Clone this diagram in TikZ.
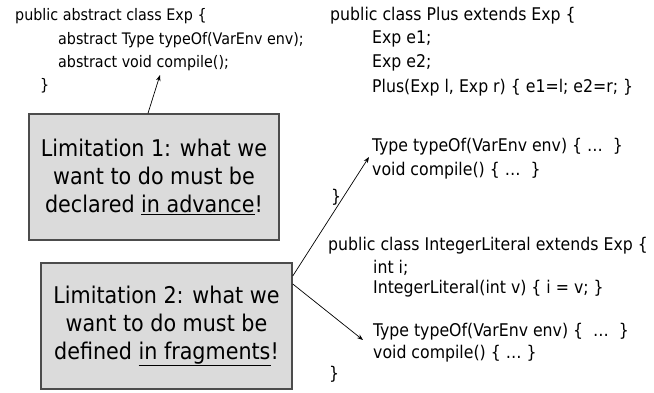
\documentclass[tikz,border=0pt]{standalone}
\usepackage{fontspec}
\setmainfont{DejaVu Sans Condensed}
\usetikzlibrary{arrows.meta}
\begin{document}
\begin{tikzpicture}[x=1pt,y=-1pt,
  codeL/.style={anchor=base west,inner sep=0pt,font=\fontsize{15.9}{19}\selectfont},
  codeR/.style={anchor=base west,inner sep=0pt,font=\fontsize{17.5}{20}\selectfont},
  limbox/.style={draw=black!70,line width=1.5pt,fill=black!14,align=center,inner sep=0pt,
     font=\fontsize{23}{28}\selectfont},
  arr/.style={-{Stealth[length=6pt,width=4.5pt]},line width=0.7pt}]
\useasboundingbox (0,0) rectangle (654,393);
% left class
\node[codeL] (e1) at (15,21) {public abstract class Exp \{};
\node[codeL] (e2) at (58,45) {abstract Type typeOf(VarEnv env);};
\node[codeL] (e3) at (58,68) {abstract void compile();};
\node[codeL] (e4) at (40,91) {\}};
% Plus class
\node[codeR] (p1) at (330,21) {public class Plus extends Exp \{};
\node[codeR] (p2) at (372,44) {Exp e1;};
\node[codeR] (p3) at (372,68) {Exp e2;};
\node[codeR] (p4) at (372,93) {Plus(Exp l, Exp r) \{ e1=l; e2=r; \}};
\node[codeR] (p5) at (372,152) {Type typeOf(VarEnv env) \{ …\ \ \}};
\node[codeR] (p6) at (372,176) {void compile() \{ …\ \ \}};
\node[codeR] (p7) at (331,203) {\}};
% IntegerLiteral class
\node[codeR] (i1) at (328,251) {public class IntegerLiteral extends Exp \{};
\node[codeR] (i2) at (373,273) {int i;};
\node[codeR] (i3) at (373,294) {IntegerLiteral(int v) \{ i = v; \}};
\node[codeR] (i4) at (373,336) {Type typeOf(VarEnv env) \{\ \ …\ \ \}};
\node[codeR] (i5) at (373,358) {void compile() \{ … \}};
\node[codeR] (i6) at (329,379) {\}};
% limitation boxes
\node[limbox,minimum width=250pt,minimum height=126pt] (b1) at (154,177)
  {Limitation 1: what we\\want to do must be\\declared \underline{in advance}!};
\node[limbox,minimum width=251pt,minimum height=126pt] (b2) at (166.5,326)
  {Limitation 2: what we\\want to do must be\\defined \underline{in fragments}!};
% arrow targets
\coordinate (t1) at (160,75);
\coordinate (t2) at (369,157);
\coordinate (t3) at (363,340);
\draw[arr] ([xshift=-6pt]b1.north) -- (t1);
\draw[arr] ([yshift=50pt]b2.east) -- (t2);
\draw[arr] ([yshift=42pt]b2.east) -- (t3);
\end{tikzpicture}
\end{document}
